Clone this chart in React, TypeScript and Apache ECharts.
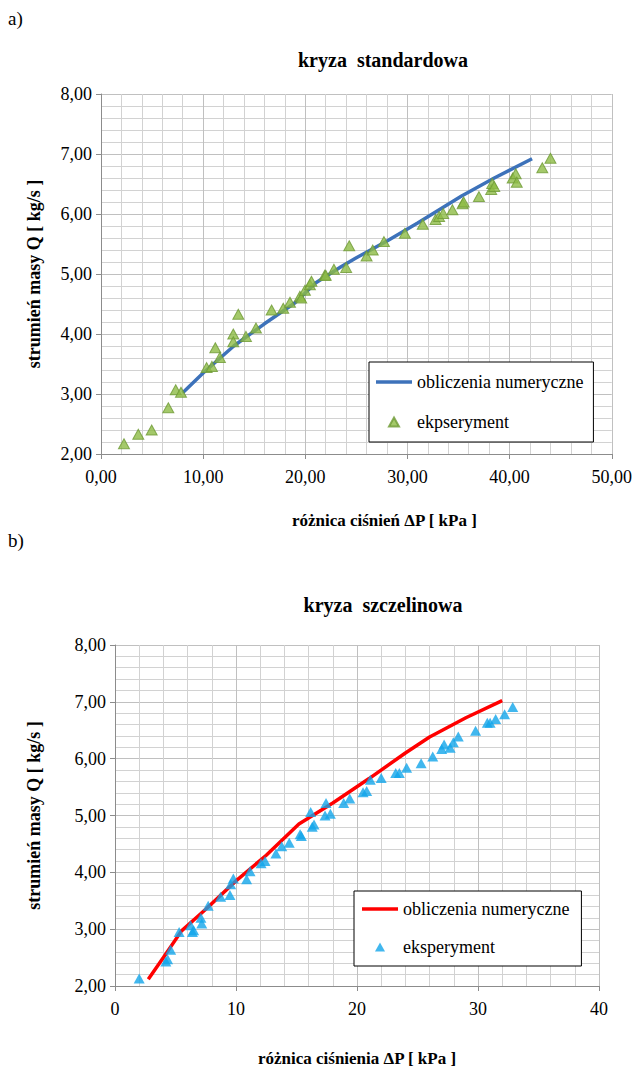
import React, { useEffect, useRef } from "react";
import * as echarts from "echarts";

// ---- chart a) kryza standardowa ----
const aLineDP = [8.0, 10.0, 13.0, 16.0, 19.0, 21.0, 23.5, 25.0, 28.0, 31.0, 35.3, 38.5, 42.2];
const aLineQ = [3.02, 3.35, 3.8, 4.17, 4.52, 4.85, 5.12, 5.27, 5.55, 5.85, 6.3, 6.6, 6.92];
const aExpDP = [2.25, 3.65, 4.96, 6.59, 7.31, 7.83, 10.34, 10.86, 11.19, 11.64, 12.95, 12.95, 13.44, 14.19, 15.17, 16.7, 17.84, 18.5, 19.47, 19.6, 19.96, 20.45, 20.6, 21.9, 22.0, 22.8, 24.0, 24.3, 26.0, 26.6, 27.7, 29.75, 31.5, 32.75, 33.1, 33.5, 34.4, 35.4, 35.5, 37.0, 38.2, 38.3, 38.5, 40.3, 40.6, 40.7, 43.2, 44.0];
const aExpQ = [2.17, 2.33, 2.4, 2.77, 3.07, 3.03, 3.44, 3.46, 3.77, 3.61, 4.0, 3.87, 4.33, 3.96, 4.1, 4.4, 4.43, 4.53, 4.63, 4.6, 4.73, 4.82, 4.88, 4.98, 4.98, 5.08, 5.11, 5.47, 5.3, 5.4, 5.54, 5.68, 5.83, 5.91, 5.96, 6.01, 6.07, 6.17, 6.2, 6.29, 6.41, 6.51, 6.46, 6.6, 6.67, 6.53, 6.77, 6.93];

// ---- chart b) kryza szczelinowa ----
const bLineDP = [2.75, 4.0, 5.5, 7.5, 10.0, 12.5, 15.2, 18.0, 21.0, 24.0, 26.0, 29.0, 32.0];
const bLineQ = [2.12, 2.5, 2.97, 3.35, 3.85, 4.3, 4.85, 5.22, 5.65, 6.1, 6.38, 6.72, 7.02];
const bExpDP = [2.0, 4.2, 4.35, 4.6, 5.3, 6.25, 6.4, 6.5, 7.1, 7.17, 7.7, 8.73, 9.5, 9.56, 9.78, 10.88, 11.16, 12.07, 12.4, 13.3, 13.78, 14.4, 15.3, 15.4, 16.17, 16.3, 16.45, 17.36, 17.44, 17.8, 18.9, 19.4, 20.5, 20.8, 21.1, 22.0, 23.2, 23.5, 24.1, 25.3, 26.26, 27.0, 27.2, 27.7, 27.96, 28.37, 29.8, 30.77, 31.0, 31.46, 32.2, 32.87];
const bExpQ = [2.13, 2.43, 2.47, 2.64, 2.95, 3.07, 2.95, 2.98, 3.2, 3.1, 3.41, 3.57, 3.6, 3.79, 3.89, 3.88, 4.02, 4.16, 4.2, 4.33, 4.46, 4.52, 4.67, 4.64, 5.06, 4.8, 4.84, 5.0, 5.22, 5.03, 5.22, 5.3, 5.41, 5.43, 5.63, 5.66, 5.75, 5.75, 5.84, 5.92, 6.04, 6.17, 6.25, 6.19, 6.29, 6.39, 6.49, 6.63, 6.63, 6.7, 6.78, 6.91];

const seriesNames = ["obliczenia numeryczne", "ekpseryment", "eksperyment"];
const panelLabels = ["a)", "b)"];
const chartTitles = ["kryza  standardowa", "kryza  szczelinowa"];
const xTitles = ["różnica ciśnień ΔP [ kPa ]", "różnica ciśnienia ΔP [ kPa ]"];
const yTitle = "strumień masy Q [ kg/s ]";

const pairs = (xs: number[], ys: number[]) => xs.map((x, i) => [x, ys[i]]);
const FONT = "Liberation Serif";
const comma = (v: number, d: number) => v.toFixed(d).replace(".", ",");

const BLUE = "#3D72BA";
const GREEN = "#8DBB45";
const RED = "#FF0000";
const CYAN = "#12A5EA";
const LINE_ICON = "path://M0,0H36V3.5H0Z";
const TRI_ICON = "path://M5,0L10,9L0,9Z";

const mkX = (gridIndex: number, max: number, dec: number, name: string, gap: number, pad: number[]) => ({
  type: "value",
  gridIndex,
  min: 0,
  max,
  interval: 10,
  name,
  nameLocation: "middle",
  nameGap: gap,
  nameTextStyle: { fontFamily: FONT, fontSize: 17, fontWeight: "bold", color: "#000", padding: pad },
  axisLine: { show: true, lineStyle: { color: "#8c8c8c", width: 1 } },
  axisTick: { show: true, length: 5, lineStyle: { color: "#8c8c8c" } },
  axisLabel: { fontFamily: FONT, fontSize: 18, color: "#000", margin: 14, formatter: (v: number) => comma(v, dec) },
  splitLine: { show: true, lineStyle: { color: "#c0c0c0", width: 1 } },
  minorTick: { show: false, splitNumber: 5 },
  minorSplitLine: { show: true, lineStyle: { color: "#d2d2d2", width: 1 } },
});

const mkY = (gridIndex: number, gap: number) => ({
  type: "value",
  gridIndex,
  min: 2,
  max: 8,
  interval: 1,
  name: yTitle,
  nameLocation: "middle",
  nameGap: gap,
  nameTextStyle: { fontFamily: FONT, fontSize: 18, fontWeight: "bold", color: "#000" },
  axisLine: { show: true, lineStyle: { color: "#8c8c8c", width: 1 } },
  axisTick: { show: true, length: 5, lineStyle: { color: "#8c8c8c" } },
  axisLabel: { fontFamily: FONT, fontSize: 18, color: "#000", margin: 9, formatter: (v: number) => comma(v, 2) },
  splitLine: { show: true, lineStyle: { color: "#c0c0c0", width: 1 } },
  minorTick: { show: false, splitNumber: 5 },
  minorSplitLine: { show: true, lineStyle: { color: "#d2d2d2", width: 1 } },
});

export default function App() {
  const ref = useRef<HTMLDivElement>(null);
  useEffect(() => {
    document.body.style.margin = "0";
    const chart = echarts.init(ref.current!, null, { renderer: "svg" });
    const legendCommon = {
      orient: "vertical",
      selectedMode: false,
      backgroundColor: "#fff",
      borderColor: "#000",
      borderWidth: 1,
      itemWidth: 36,
      itemHeight: 9,
      symbolKeepAspect: true,
      textStyle: { fontFamily: FONT, fontSize: 18, color: "#000", lineHeight: 20 },
    };
    chart.setOption({
      animation: false,
      backgroundColor: "#fff",
      textStyle: { fontFamily: FONT },
      graphic: [
        { type: "text", x: 8, y: 18, style: { text: panelLabels[0], font: `19px ${FONT}`, fill: "#000", verticalAlign: "middle" } },
        { type: "text", x: 383, y: 60, style: { text: chartTitles[0], font: `bold 20px ${FONT}`, fill: "#000", align: "center", verticalAlign: "middle" } },
        { type: "text", x: 8, y: 540, style: { text: panelLabels[1], font: `19px ${FONT}`, fill: "#000", verticalAlign: "middle" } },
        { type: "text", x: 383, y: 605, style: { text: chartTitles[1], font: `bold 20px ${FONT}`, fill: "#000", align: "center", verticalAlign: "middle" } },
      ],
      grid: [
        { left: 101, right: 23, top: 94, height: 360, containLabel: false },
        { left: 115, right: 36, top: 645, height: 342, containLabel: false },
      ],
      xAxis: [mkX(0, 50, 2, xTitles[0], 58, [0, 0, 0, 56]), mkX(1, 40, 0, xTitles[1], 64, [0, 0, 0, 0])],
      yAxis: [mkY(0, 58), mkY(1, 72)],
      legend: [
        {
          ...legendCommon, left: 369, top: 362, padding: [10, 10, 10, 7], itemGap: 20,
          data: [
            { name: seriesNames[0], icon: LINE_ICON, itemStyle: { color: BLUE } },
            { name: seriesNames[1], icon: TRI_ICON, itemStyle: { color: GREEN } },
          ],
        },
        {
          ...legendCommon, left: 354, top: 891, padding: [8, 12, 9, 8], itemGap: 18,
          data: [
            { name: seriesNames[0], icon: LINE_ICON, itemStyle: { color: RED } },
            { name: seriesNames[2], icon: TRI_ICON, itemStyle: { color: CYAN } },
          ],
        },
      ],
      series: [
        {
          name: seriesNames[0], type: "line", xAxisIndex: 0, yAxisIndex: 0, symbol: "none", z: 3,
          lineStyle: { color: BLUE, width: 3.5 }, itemStyle: { color: BLUE },
          data: pairs(aLineDP, aLineQ),
        },
        {
          name: seriesNames[1], type: "scatter", xAxisIndex: 0, yAxisIndex: 0, symbol: "triangle", symbolSize: [11, 10], z: 4,
          itemStyle: { color: GREEN, borderColor: "#6E9A34", borderWidth: 1 },
          data: pairs(aExpDP, aExpQ),
        },
        {
          name: seriesNames[0], type: "line", xAxisIndex: 1, yAxisIndex: 1, symbol: "none", z: 3,
          lineStyle: { color: RED, width: 3.5 }, itemStyle: { color: RED },
          data: pairs(bLineDP, bLineQ),
        },
        {
          name: seriesNames[2], type: "scatter", xAxisIndex: 1, yAxisIndex: 1, symbol: "triangle", symbolSize: [11, 10], z: 4,
          itemStyle: { color: CYAN },
          data: pairs(bExpDP, bExpQ),
        },
      ],
    });
    return () => chart.dispose();
  }, []);
  return <div ref={ref} style={{ width: 635, height: 1068 }} />;
}
